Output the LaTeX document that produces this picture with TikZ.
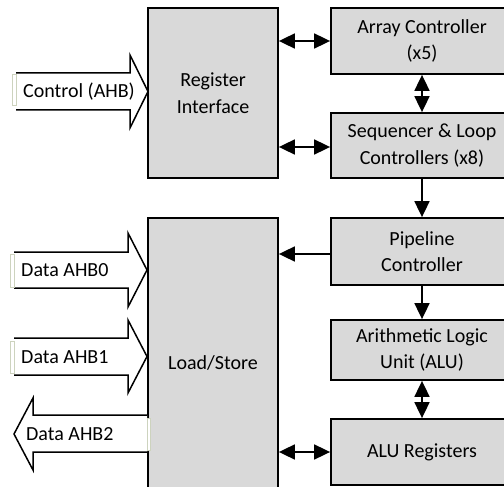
\documentclass[tikz,border=0pt]{standalone}
\usepackage{fontspec}
\setmainfont{Carlito}
\usetikzlibrary{arrows.meta}
\definecolor{boxgray}{HTML}{D9D9D9}
\definecolor{edgegreen}{HTML}{CDD3BE}
\tikzset{
  block/.style={draw=black, line width=1.8pt, fill=boxgray, align=center,
    inner sep=0pt, font=\fontsize{20}{26.5}\selectfont},
  conn/.style={line width=1.8pt, -{Triangle[length=16pt,width=15pt]}},
  dbl/.style={line width=1.8pt, {Triangle[length=16pt,width=15pt]}-{Triangle[length=16pt,width=15pt]}},
  busline/.style={draw=black, line width=1.5pt, fill=white, line join=miter},
  buslabel/.style={anchor=west, inner sep=0pt, font=\fontsize{20}{24}\selectfont},
  textedge/.style={draw=edgegreen, line width=1pt, fill=white}
}
\begin{document}
\begin{tikzpicture}[x=1pt,y=-1pt]
\useasboundingbox (0,0) rectangle (504,487);
\clip (0,0) rectangle (504,487);
% main blocks
\node[block, minimum width=130pt, minimum height=170pt] (reg) at (213,93) {Register\\Interface};
\node[block, minimum width=130pt, minimum height=290pt] (ls) at (213,363) {Load/Store};
\node[block, minimum width=182pt, minimum height=66pt] (arr) at (422,41) {Array Controller\\(x5)};
\node[block, minimum width=182pt, minimum height=65pt] (seq) at (422,145.5) {Sequencer \& Loop\\Controllers (x8)};
\node[block, minimum width=182pt, minimum height=67pt] (pip) at (422,251.5) {Pipeline\\Controller};
\node[block, minimum width=182pt, minimum height=60pt] (alu) at (422,350) {Arithmetic Logic\\Unit (ALU)};
\node[block, minimum width=182pt, minimum height=66pt] (alr) at (422,452) {ALU Registers};
% connectors
\draw[dbl] (reg.east |- arr.west) -- (arr.west);
\draw[dbl] (reg.east |- 0,147) -- (seq.west |- 0,147);
\draw[dbl] (arr.south) -- (seq.north);
\draw[conn] (seq.south) -- (pip.north);
\draw[conn] (pip.west |- 0,254) -- (ls.east |- 0,254);
\draw[conn] (pip.south) -- (alu.north);
\draw[dbl] (alu.south) -- (alr.north);
\draw[dbl] (ls.east |- alr.west) -- (alr.west);
% bus arrows
\draw[busline] (16,73) -- (130,73) -- (130,55) -- (148,91.5) -- (130,128) -- (130,110) -- (16,110);
\draw[textedge] (12.5,75) rectangle (16,106);
\node[buslabel] (ctl) at (23,91.5) {Control (AHB)};

\draw[busline] (14,252) -- (128,252) -- (128,233) -- (147,270) -- (128,307) -- (128,288) -- (14,288);
\draw[textedge] (10.5,254) rectangle (14,287);
\node[buslabel] (d0) at (21,270.5) {Data AHB0};

\draw[busline] (14,338) -- (128,338) -- (128,320) -- (147,356.5) -- (128,393) -- (128,375) -- (14,375);
\draw[textedge] (10.5,341) rectangle (14,373);
\node[buslabel] (d1) at (21,357) {Data AHB1};

\draw[busline] (147,415) -- (33,415) -- (33,398) -- (14,434) -- (33,470) -- (33,452) -- (147,452);
\draw[textedge] (147,418) rectangle (150.5,450);
\node[buslabel] (d2) at (26,434) {Data AHB2};
\end{tikzpicture}
\end{document}
